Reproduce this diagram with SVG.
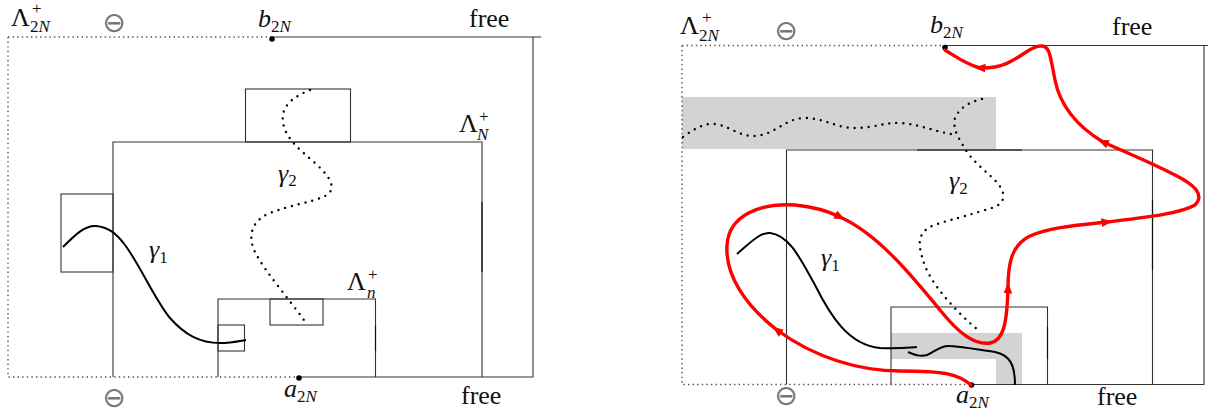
<svg xmlns="http://www.w3.org/2000/svg" width="1208" height="415" viewBox="0 0 1208 415">
<style>
.ln{fill:none;stroke:#333;stroke-width:1.1}
.dk{fill:none;stroke:#111;stroke-width:1.2}
.dt{fill:none;stroke:#555;stroke-width:1.4;stroke-dasharray:1.4 3.2}
.gd{fill:none;stroke:#000;stroke-width:2.4;stroke-linecap:round;stroke-dasharray:0 7}
.g1{fill:none;stroke:#000;stroke-width:2}
.rd{fill:none;stroke:#ff0000;stroke-width:3.4;stroke-linecap:round}
.sh{fill:#d3d3d3;stroke:none}
.t{font-family:"Liberation Serif","DejaVu Serif",serif;font-size:26px;fill:#111}
.s{font-size:17px}
.i{font-style:italic}
.sym{font-family:"DejaVu Sans","Noto Sans",sans-serif;font-size:28px;fill:#777}
</style>
<defs>
<marker id="ah" viewBox="0 0 10 10" refX="5" refY="5" markerWidth="11" markerHeight="11" markerUnits="userSpaceOnUse" orient="auto">
<path d="M0,1 L10,5 L0,9 z" fill="#ff0000"/>
</marker>
</defs>

<!-- LEFT DIAGRAM -->
<g id="L-outer">
<path class="dt" d="M8,37 H272 M8,37 V377 H300"/>
<path class="ln" d="M272,37 H541 M533,37 V377 H300"/>
<circle cx="272" cy="39" r="2.8" fill="#000"/>
<circle cx="299" cy="378" r="2.8" fill="#000"/>
</g>
<g id="L-LambdaN">
<path class="ln" d="M113,377 V142 H482 V377"/>
<path class="dk" d="M482,202 V272"/>
</g>
<g id="L-topbox"><rect class="ln" x="245.5" y="89" width="105" height="53"/></g>
<g id="L-leftbox"><rect class="ln" x="61" y="194" width="52" height="78"/></g>
<g id="L-Lambdan">
<path class="ln" d="M218,377 V299 H375.5 V377"/>
<path class="dk" d="M375.5,326 V351"/>
</g>
<g id="L-smallbox1"><rect class="ln" x="270" y="299" width="53" height="26"/></g>
<g id="L-smallbox2"><rect class="ln" x="218" y="325" width="26.5" height="26"/></g>

<g id="L-curves">
<path class="gd" d="M310,90 C290,98 281,108 283,122 C285,138 300,150 315,163 C332,178 337,190 325,196 C310,203 290,205 270,213 C250,221 248,238 255,252 C265,272 290,300 306,323"/>
<path class="g1" d="M63,247 C75,235 85,225 96,226 C108,227 116,233 125,245 C140,265 155,300 170,318 C185,335 200,343 220,343 C230,343 240,341 246,340"/>
</g>

<g id="L-labels">
<text class="t" x="11" y="26">Λ<tspan class="s" x="32" y="14">+</tspan><tspan class="s" x="30" y="32">2<tspan class="i">N</tspan></tspan></text>
<text class="sym" x="114" y="32" text-anchor="middle">⊖</text>
<text class="t" x="258" y="27"><tspan class="i">b</tspan><tspan class="s" y="32">2<tspan class="i">N</tspan></tspan></text>
<text class="t" x="469" y="27">free</text>
<text class="t" x="459" y="132">Λ<tspan class="s" x="479" y="122">+</tspan><tspan class="s i" x="477" y="140">N</tspan></text>
<text class="t" x="278" y="182"><tspan class="i">γ</tspan><tspan class="s" y="186">2</tspan></text>
<text class="t" x="149" y="258"><tspan class="i">γ</tspan><tspan class="s" y="263">1</tspan></text>
<text class="t" x="347" y="290">Λ<tspan class="s" x="368" y="280">+</tspan><tspan class="s i" x="367" y="298">n</tspan></text>
<text class="sym" x="114" y="407" text-anchor="middle">⊖</text>
<text class="t" x="284" y="397"><tspan class="i">a</tspan><tspan class="s" y="402">2<tspan class="i">N</tspan></tspan></text>
<text class="t" x="461" y="404">free</text>
</g>

<!-- RIGHT DIAGRAM -->
<g id="R-shades">
<rect class="sh" x="682" y="97" width="314" height="52"/>
<path class="sh" d="M891,333 H1022 V385 H996 V359 H891 z"/>
</g>
<g id="R-outer">
<path class="dt" d="M682,45.5 H944 M682,45.5 V384.5 H971"/>
<path class="ln" d="M944,45.5 H1208 M1204,45.5 V384.5 H971"/>
<circle cx="945" cy="47.5" r="2.8" fill="#000"/>
<circle cx="971.5" cy="385" r="2.8" fill="#000"/>
</g>
<g id="R-LambdaN">
<path class="ln" d="M786.5,384.5 V150 H1152.5 V384.5"/>
<path class="dk" d="M917,150 H1022 M1152.5,200 V270"/>
</g>
<g id="R-Lambdan">
<path class="ln" d="M891,384.5 V307 H1047.5 V384.5"/>
<path class="dk" d="M1047.5,327 V359"/>
</g>

<g id="R-curves">
<path class="gd" d="M683,137 C695,128 705,123 715,124 C730,126 740,137 755,136 C775,135 785,118 805,118 C825,118 835,128 855,128 C875,128 885,122 900,123 C920,124 935,132 957,135"/>
<path class="gd" d="M982,99 C970,102 960,107 955,118 C952,130 960,140 967,152 C980,170 1000,180 1003,193 C1005,205 995,207 985,210 C960,218 940,222 930,227 C915,235 920,250 923,260 C930,285 960,315 978,330"/>
<path class="g1" d="M737,254 C750,243 760,232 770,233 C790,235 802,262 815,285 C830,315 848,345 880,348 C895,349 905,348 917,347"/>
<path class="g1" d="M908,352 C915,355 920,357 927,355 C935,352 940,345 950,346 C965,347 980,350 995,352 C1010,355 1015,365 1015,385"/>
<path class="rd" marker-end="url(#ah)" d="M971,385 C958,374 945,371 900,371 C860,371 815,358 777,330"/>
<path class="rd" marker-end="url(#ah)" d="M777,330 C745,305 725,275 727,245 C729,215 760,203 795,205 C815,207 828,211 840,217"/>
<path class="rd" marker-end="url(#ah)" d="M840,217 C880,235 915,280 940,310 C960,335 975,345 990,343 C1003,341 1007,325 1008,288"/>
<path class="rd" marker-end="url(#ah)" d="M1008,288 C1008,262 1012,245 1030,236 C1050,227 1080,225 1107,222"/>
<path class="rd" marker-end="url(#ah)" d="M1107,222 C1140,218 1180,214 1195,205 C1205,195 1195,185 1175,175 C1150,162 1125,152 1103,142"/>
<path class="rd" marker-end="url(#ah)" d="M1103,142 C1075,125 1060,105 1055,80 C1050,55 1050,45 1040,46 C1025,47 1015,69 980,68"/>
<path class="rd" d="M980,68 C965,64 955,56 945,50"/>
</g>

<g id="R-labels">
<text class="t" x="680" y="34">Λ<tspan class="s" x="702" y="23">+</tspan><tspan class="s" x="699" y="41">2<tspan class="i">N</tspan></tspan></text>
<text class="sym" x="786" y="40" text-anchor="middle">⊖</text>
<text class="t" x="930" y="33"><tspan class="i">b</tspan><tspan class="s" y="38">2<tspan class="i">N</tspan></tspan></text>
<text class="t" x="1112" y="35">free</text>
<text class="t" x="949" y="189"><tspan class="i">γ</tspan><tspan class="s" y="194">2</tspan></text>
<text class="t" x="821" y="266"><tspan class="i">γ</tspan><tspan class="s" y="271">1</tspan></text>
<text class="sym" x="786" y="405" text-anchor="middle">⊖</text>
<text class="t" x="956" y="403"><tspan class="i">a</tspan><tspan class="s" y="408">2<tspan class="i">N</tspan></tspan></text>
<text class="t" x="1097" y="405">free</text>
</g>
</svg>
